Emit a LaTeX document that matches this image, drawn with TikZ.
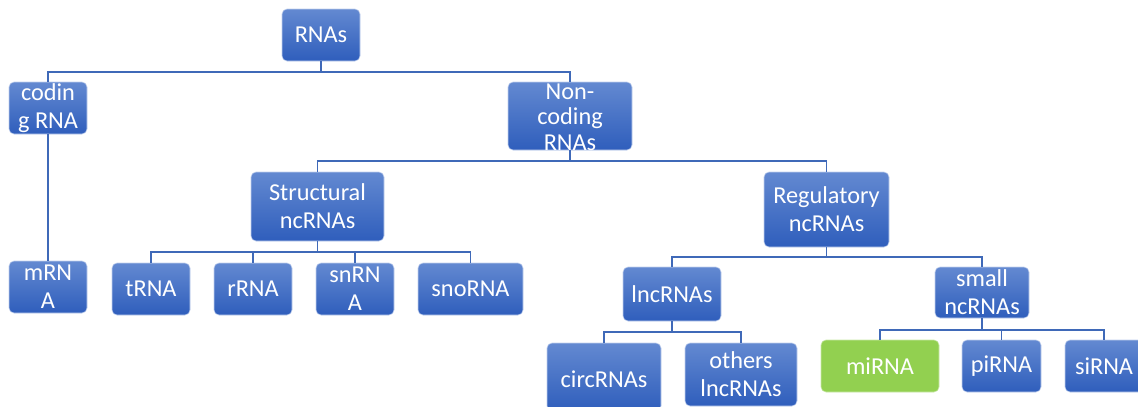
\documentclass[tikz,border=0pt]{standalone}
\usepackage{fontspec}
\setmainfont{Carlito}
\definecolor{boxtop}{HTML}{6389D1}
\definecolor{boxbot}{HTML}{2F5EBC}
\definecolor{conncol}{HTML}{3F69B8}
\definecolor{greenbox}{HTML}{92D050}
\tikzset{
  box/.style={rectangle, rounded corners=5pt, inner sep=0pt,
    top color=boxtop, bottom color=boxbot, draw=white!60!boxtop, line width=0.6pt},
  greenb/.style={rectangle, rounded corners=5pt, inner sep=0pt,
    fill=greenbox, draw=white!50!greenbox, line width=0.6pt},
  txt/.style={text=white, align=center, inner sep=0pt,
    font=\fontsize{24.3}{27.8}\selectfont},
  conn/.style={draw=conncol, line width=1.4pt}
}
\begin{document}
\begin{tikzpicture}[x=1pt, y=-1pt]
\useasboundingbox (0,0) rectangle (1138,407);
% junction coordinates
\coordinate (j1) at (321,72);
\coordinate (j2) at (570,161);
\coordinate (j3) at (317.5,252);
\coordinate (j4) at (826.5,257);
\coordinate (j5) at (672,332);
\coordinate (j6) at (982,330);
% boxes
\node[box, minimum width=78pt, minimum height=52pt, label={[txt]center:RNAs}] (rna) at (321,35) {};
\node[box, minimum width=78pt, minimum height=52pt, label={[txt]center:codin\\g RNA}] (cod) at (48,108) {};
\node[box, minimum width=124pt, minimum height=68pt, label={[txt, font=\fontsize{24.3}{25.5}\selectfont, yshift=-1pt]center:Non-\\coding\\RNAs}] (nc) at (570,116) {};
\node[box, minimum width=78pt, minimum height=52pt, label={[txt]center:mRN\\A}] (mrna) at (48,287) {};
\node[box, minimum width=133pt, minimum height=69pt, label={[txt]center:Structural\\ncRNAs}] (str) at (317.5,206.5) {};
\node[box, minimum width=125pt, minimum height=75pt, label={[txt]center:Regulatory\\ncRNAs}] (reg) at (826.5,209.5) {};
\node[box, minimum width=78pt, minimum height=52pt, label={[txt]center:tRNA}] (trna) at (151,289) {};
\node[box, minimum width=78pt, minimum height=52pt, label={[txt]center:rRNA}] (rrna) at (253,289) {};
\node[box, minimum width=78pt, minimum height=52pt, label={[txt]center:snRN\\A}] (snrna) at (355,289) {};
\node[box, minimum width=105pt, minimum height=52pt, label={[txt]center:snoRNA}] (snorna) at (470.5,289) {};
\node[box, minimum width=98pt, minimum height=54pt, label={[txt]center:lncRNAs}] (lnc) at (672,294) {};
\node[box, minimum width=94pt, minimum height=51pt, label={[txt]center:small\\ncRNAs}] (small) at (982,292.5) {};
\node[box, minimum width=114pt, minimum height=68pt, label={[txt, yshift=-2pt]center:circRNAs}] (circ) at (604,377) {};
\node[box, minimum width=112pt, minimum height=63pt, label={[txt]center:others\\lncRNAs}] (oth) at (741,374.5) {};
\node[greenb, minimum width=118pt, minimum height=52pt, label={[txt]center:miRNA}] (mi) at (880,366) {};
\node[box, minimum width=79pt, minimum height=52pt, label={[txt]center:piRNA}] (pi) at (1001.5,366) {};
\node[box, minimum width=78pt, minimum height=52pt, label={[txt]center:siRNA}] (si) at (1104,366) {};
% connectors
\draw[conn] (rna.south) -- (j1) -| (cod.north);
\draw[conn] (j1) -| (nc.north);
\draw[conn] (cod.south) -- (mrna.north);
\draw[conn] (nc.south) -- (j2) -| (str.north);
\draw[conn] (j2) -| (reg.north);
\draw[conn] (str.south) -- (j3) -| (trna.north);
\draw[conn] (j3) -| (rrna.north);
\draw[conn] (j3) -| (snrna.north);
\draw[conn] (j3) -| (snorna.north);
\draw[conn] (reg.south) -- (j4) -| (lnc.north);
\draw[conn] (j4) -| (small.north);
\draw[conn] (lnc.south) -- (j5) -| (circ.north);
\draw[conn] (j5) -| (oth.north);
\draw[conn] (small.south) -- (j6) -| (mi.north);
\draw[conn] (j6) -| (pi.north);
\draw[conn] (j6) -| (si.north);
\end{tikzpicture}
\end{document}
